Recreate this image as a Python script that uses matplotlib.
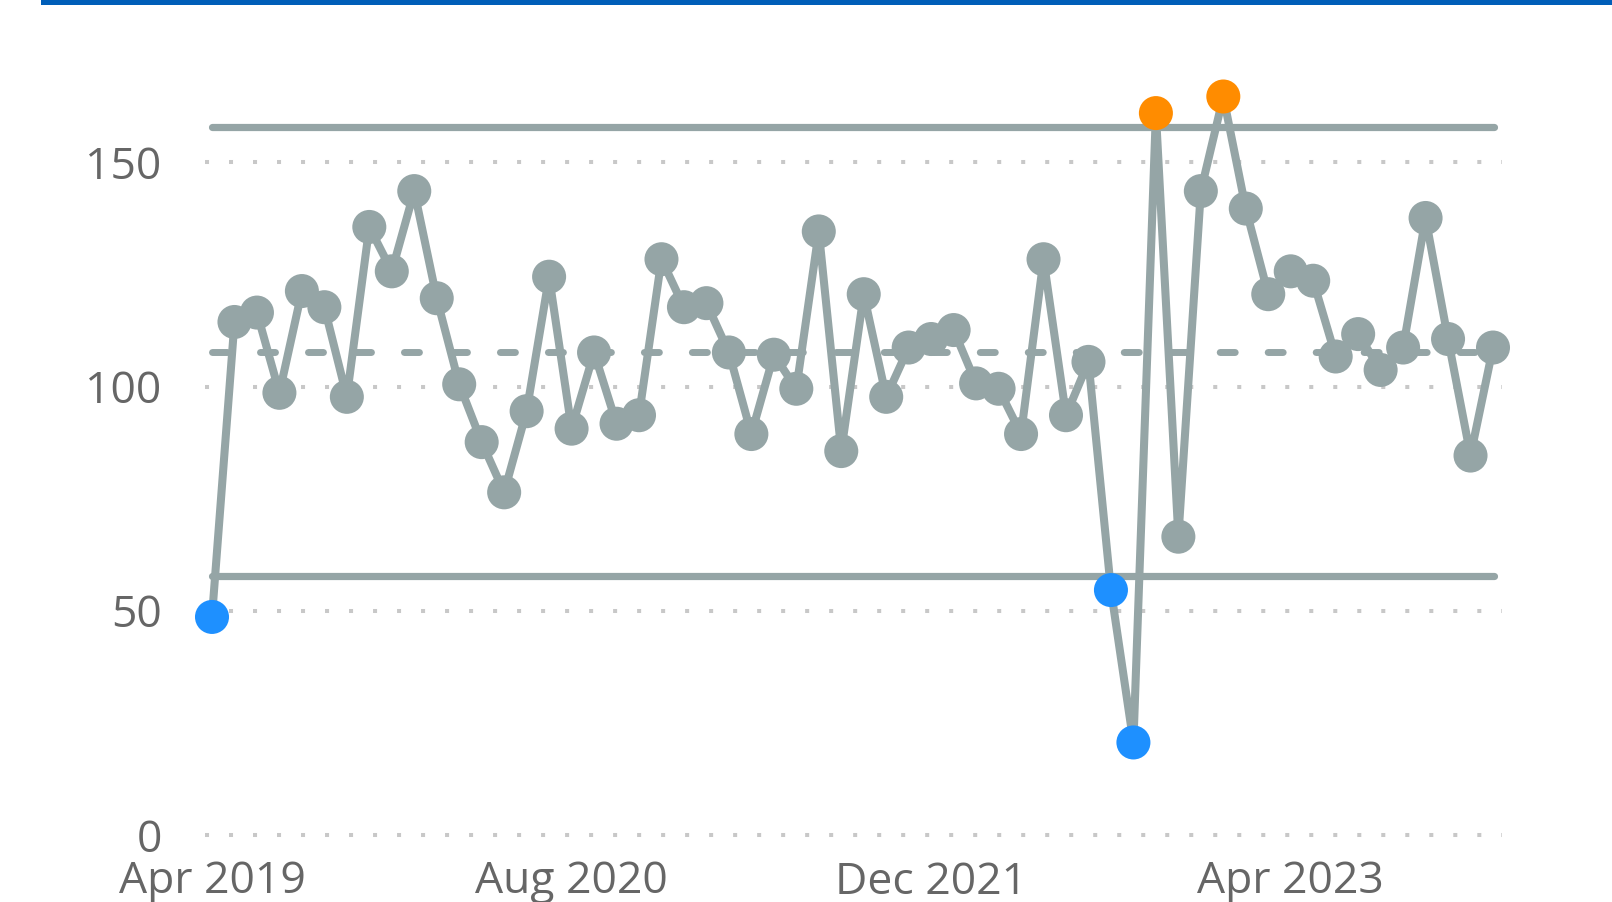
import matplotlib
matplotlib.use("Agg")
import matplotlib.pyplot as plt

# monthly values, Apr 2019 .. Jan 2024
values = [48.6, 114.4, 116.5, 98.6, 121.3, 117.7, 97.7, 135.6, 125.7, 143.6,
          119.7, 100.5, 87.6, 76.4, 94.5, 124.5, 90.6, 107.6, 91.7, 93.6,
          128.4, 117.7, 118.6, 107.6, 89.4, 107.1, 99.5, 134.6, 85.6, 120.6,
          97.7, 108.7, 110.6, 112.6, 100.7, 99.5, 89.4, 128.4, 93.6, 105.5,
          54.6, 20.6, 161.0, 66.5, 143.6, 164.7, 139.7, 120.6, 125.7, 123.6,
          106.7, 111.7, 103.7, 108.7, 137.6, 110.6, 84.6, 108.7]
mean_line = 107.8
upper_limit = 157.8
lower_limit = 57.8
tick_pos = [0, 16, 32, 48]
tick_labels = ["Apr 2019", "Aug 2020", "Dec 2021", "Apr 2023"]
y_ticks = [0, 50, 100, 150]

grey = "#95A5A6"
high = "#FF8C00"
low = "#1E90FF"
text_col = "#666666"
font = ["Open Sans", "DejaVu Sans"]

W, H = 1612, 902
fig = plt.figure(figsize=(W / 100, H / 100), dpi=100)

# axes placed in pixel terms
left_px, right_px, top_px, bot_px = 170, 1540, 60, 860
ax = fig.add_axes([left_px / W, 1 - bot_px / H, (right_px - left_px) / W, (bot_px - top_px) / H])
px_month = (1493 - 212) / 57
px_unit = (834.8 - 162.4) / 150
ax.set_xlim(-(212 - left_px) / px_month, 57 + (right_px - 1493) / px_month)
ax.set_ylim(-(bot_px - 834.8) / px_unit, (834.8 - top_px) / px_unit)

n = len(values)
x = list(range(n))

# dotted gridlines
for yt in y_ticks:
    ax.plot([-0.3, 57.4], [yt, yt], color="#C8C8C8", lw=2.9,
            linestyle=(0, (1, 4.96)), dash_capstyle="butt", zorder=1)

# control limits and centre line
span = [0.0, 57.05]
ax.plot(span, [upper_limit] * 2, color=grey, lw=5.2, solid_capstyle="round", zorder=2)
ax.plot(span, [lower_limit] * 2, color=grey, lw=5.2, solid_capstyle="round", zorder=2)
ax.plot(span, [mean_line] * 2, color=grey, lw=5,
        linestyle=(0, (2.16, 4.75)), dash_capstyle="round", zorder=2)

# series line and points
ax.plot(x, values, color=grey, lw=5.8, zorder=3, solid_joinstyle="round")
cols = [high if v > upper_limit else low if v < lower_limit else grey for v in values]
ax.scatter(x, values, s=24.5 ** 2, c=cols, zorder=4, linewidths=0)

ax.set_yticks(y_ticks)
ax.set_yticklabels([str(t) for t in y_ticks], family=font, fontsize=32, color=text_col)
ax.set_xticks(tick_pos)
ax.set_xticklabels(tick_labels, family=font, fontsize=32, color=text_col)
ax.tick_params(length=0, axis="y", pad=6)
ax.tick_params(length=0, axis="x", pad=0)
for s in ax.spines.values():
    s.set_visible(False)

# blue band along the top edge
fig.add_artist(plt.Rectangle((41 / W, 1 - 5 / H), 1, 5 / H, transform=fig.transFigure,
                             color="#005EB8", lw=0))

fig.savefig("out.png", dpi=100)
